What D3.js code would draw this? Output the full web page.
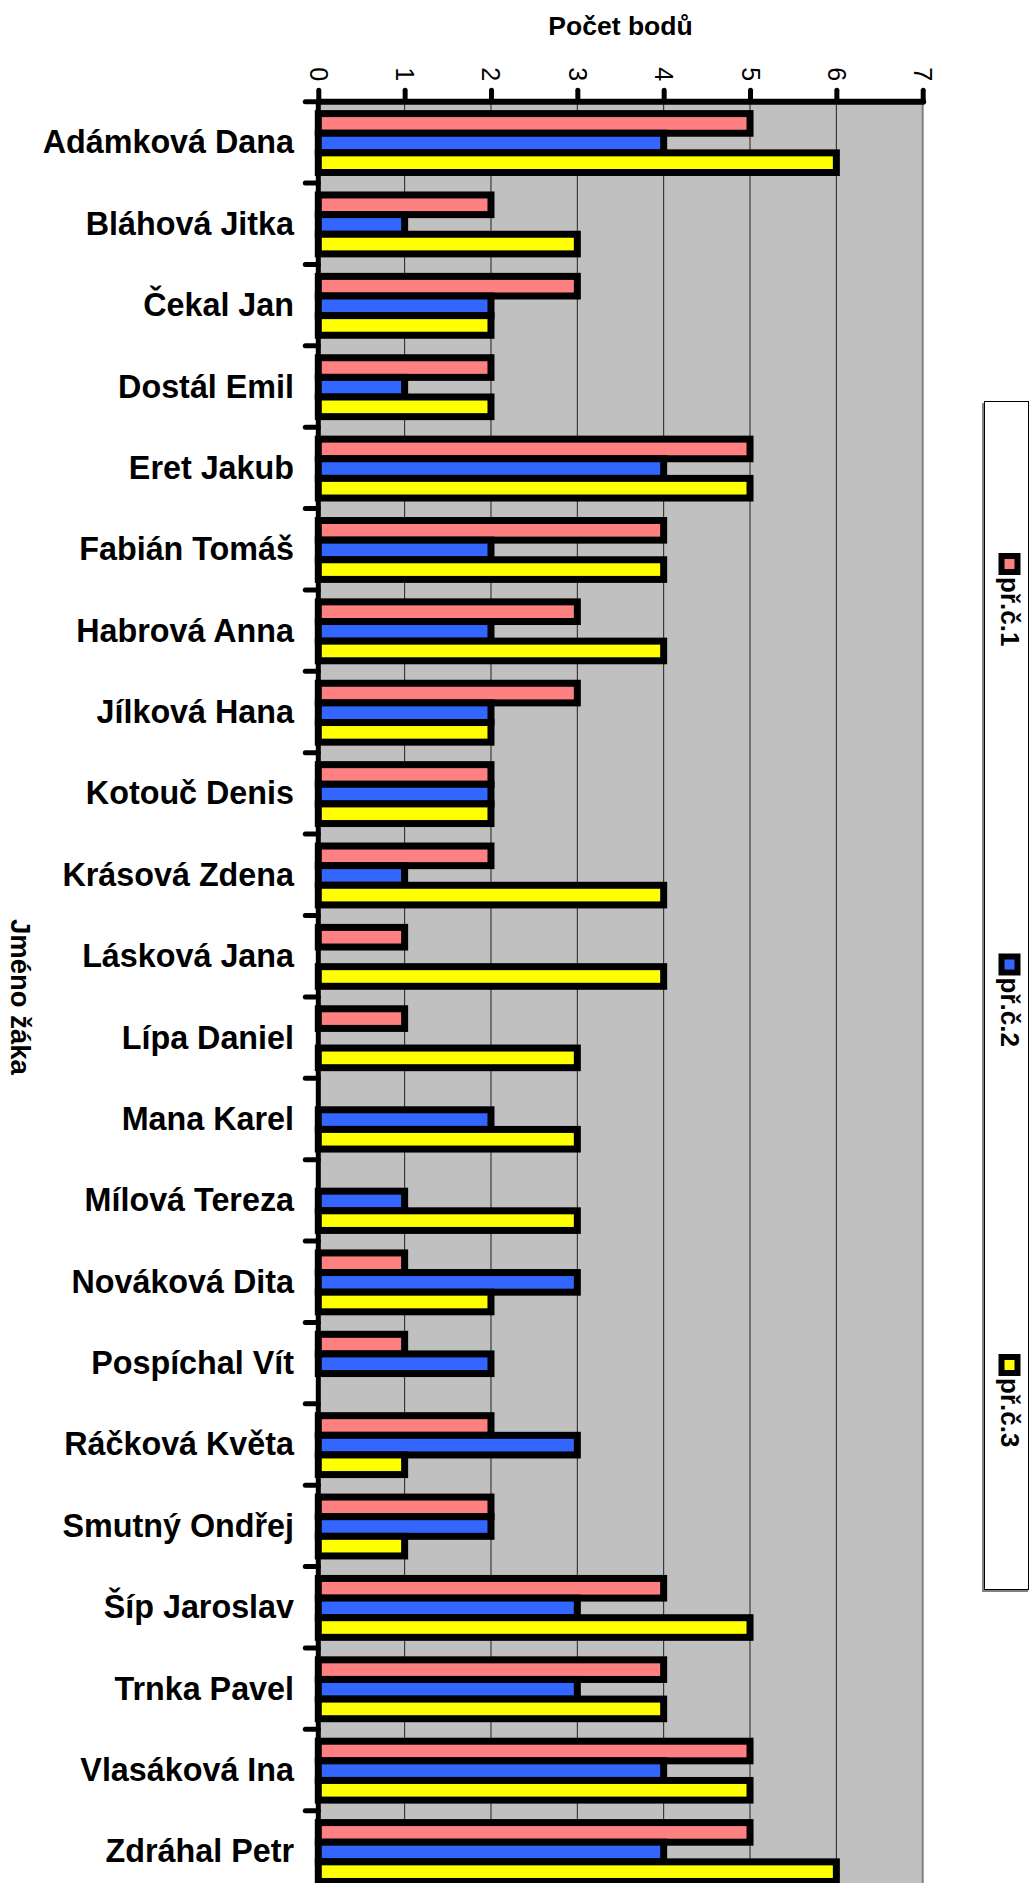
<!DOCTYPE html>
<html>
<head>
<meta charset="utf-8">
<script src="https://cdn.jsdelivr.net/npm/d3@7"></script>
<style>
  html, body { margin: 0; padding: 0; background: #fff; }
  svg { display: block; }
  text { font-family: "Liberation Sans", Arial, sans-serif; fill: #000; }
</style>
</head>
<body>
<svg id="chart" width="1030" height="1883"></svg>
<script>
const categories = [
  "Adámková Dana", "Bláhová Jitka", "Čekal Jan", "Dostál Emil", "Eret Jakub",
  "Fabián Tomáš", "Habrová Anna", "Jílková Hana", "Kotouč Denis", "Krásová Zdena",
  "Lásková Jana", "Lípa Daniel", "Mana Karel", "Mílová Tereza", "Nováková Dita",
  "Pospíchal Vít", "Ráčková Květa", "Smutný Ondřej", "Šíp Jaroslav", "Trnka Pavel",
  "Vlasáková Ina", "Zdráhal Petr"
];
const seriesNames = ["př.č.1", "př.č.2", "př.č.3"];
const pr1 = [5, 2, 3, 2, 5, 4, 3, 3, 2, 2, 1, 1, 0, 0, 1, 1, 2, 2, 4, 4, 5, 5];
const pr2 = [4, 1, 2, 1, 4, 2, 2, 2, 2, 1, 0, 0, 2, 1, 3, 2, 3, 2, 3, 3, 4, 4];
const pr3 = [6, 3, 2, 2, 5, 4, 4, 2, 2, 4, 4, 3, 3, 3, 2, 0, 1, 1, 5, 4, 5, 6];
const seriesColors = ["#FF8080", "#3366FF", "#FFFF00"];
const valueTicks = [0, 1, 2, 3, 4, 5, 6, 7];
const valueTitle = "Počet bodů";
const categoryTitle = "Jméno žáka";

const series = [pr1, pr2, pr3];
const svg = d3.select("#chart");

const plotTop = 101.7, bandStep = 81.38;
const x = d3.scaleLinear().domain([0, 7]).range([318.3, 922.7]);
const y = d3.scaleBand().domain(categories)
  .range([plotTop, plotTop + categories.length * bandStep]).padding(0);
const inner = d3.scaleBand().domain(d3.range(series.length)).range([11.9, 70.8]).padding(0);
const plotBottom = y.range()[1];

// plot background
svg.append("rect")
  .attr("x", x(0)).attr("y", plotTop)
  .attr("width", x(7) - x(0)).attr("height", plotBottom - plotTop)
  .attr("fill", "#C0C0C0");

// gridlines
svg.append("g").selectAll("line")
  .data(valueTicks.filter(v => v > 0 && v < 7))
  .join("line")
  .attr("x1", d => x(d)).attr("x2", d => x(d))
  .attr("y1", plotTop).attr("y2", plotBottom)
  .attr("stroke", "#222").attr("stroke-width", 1);
svg.append("line")
  .attr("x1", x(7)).attr("x2", x(7))
  .attr("y1", plotTop).attr("y2", plotBottom)
  .attr("stroke", "#808080").attr("stroke-width", 2);

// bars
const barData = [];
categories.forEach((c, i) => {
  series.forEach((s, j) => {
    if (s[i] > 0) barData.push({ c, j, v: s[i] });
  });
});
svg.append("g").selectAll("rect")
  .data(barData)
  .join("rect")
  .attr("x", x(0))
  .attr("y", d => y(d.c) + inner(d.j))
  .attr("width", d => x(d.v) - x(0))
  .attr("height", inner.bandwidth())
  .attr("fill", d => seriesColors[d.j])
  .attr("stroke", "#000")
  .attr("stroke-width", 7);

// value axis (top)
const axisTop = d3.axisTop(x).tickValues(valueTicks).tickSize(11).tickSizeOuter(0).tickFormat(d3.format("d"));
const gx = svg.append("g").attr("transform", `translate(0,${plotTop - 0.4})`).call(axisTop);
gx.select(".domain").attr("stroke", "#000").attr("stroke-width", 6).attr("stroke-linecap", "round");
gx.selectAll(".tick line").attr("stroke", "#000").attr("stroke-width", 5).attr("stroke-linecap", "round");
gx.selectAll(".tick text")
  .attr("y", 0).attr("dy", null)
  .attr("transform", "translate(0,-27) rotate(90)")
  .attr("text-anchor", "middle")
  .attr("dominant-baseline", "central")
  .style("font-family", "'Liberation Sans', Arial, sans-serif")
  .style("font-size", "25px");

// category axis (left)
svg.append("line")
  .attr("x1", x(0)).attr("x2", x(0))
  .attr("y1", plotTop).attr("y2", plotBottom)
  .attr("stroke", "#000").attr("stroke-width", 5);
svg.append("g").selectAll("line")
  .data(categories)
  .join("line")
  .attr("x1", x(0) - 13).attr("x2", x(0))
  .attr("y1", d => y(d)).attr("y2", d => y(d))
  .attr("stroke", "#000").attr("stroke-width", 5).attr("stroke-linecap", "round");
svg.append("g").selectAll("text")
  .data(categories)
  .join("text")
  .attr("x", 294)
  .attr("y", d => y(d) + y.bandwidth() / 2)
  .attr("text-anchor", "end")
  .attr("dominant-baseline", "central")
  .attr("font-weight", "bold")
  .attr("font-size", "32.3px")
  .text(d => d);

// axis titles
svg.append("text")
  .attr("x", (x(0) + x(7)) / 2).attr("y", 26)
  .attr("text-anchor", "middle").attr("dominant-baseline", "central")
  .attr("font-weight", "bold").attr("font-size", "26.5px")
  .text(valueTitle);
svg.append("text")
  .attr("transform", `translate(20,${(plotTop + plotBottom) / 2}) rotate(90)`)
  .attr("text-anchor", "middle").attr("dominant-baseline", "central")
  .attr("font-weight", "bold").attr("font-size", "27.5px")
  .text(categoryTitle);

// legend
const lg = svg.append("g");
lg.append("rect").attr("x", 982).attr("y", 403).attr("width", 46).attr("height", 1189).attr("fill", "#808080");
lg.append("rect").attr("x", 984.5).attr("y", 401.5).attr("width", 44).attr("height", 1188)
  .attr("fill", "#fff").attr("stroke", "#000").attr("stroke-width", 1);
const legendY = d3.scalePoint().domain(seriesNames).range([564, 1365]);
const items = lg.selectAll("g.item").data(seriesNames).join("g")
  .attr("class", "item")
  .attr("transform", d => `translate(1009.5,${legendY(d)})`);
items.append("rect").attr("x", -11).attr("y", -11).attr("width", 22).attr("height", 22).attr("fill", "#000");
items.append("rect").attr("x", -5).attr("y", -5).attr("width", 10).attr("height", 10)
  .attr("fill", (d, i) => seriesColors[i]);
items.append("text")
  .attr("transform", "translate(0,13) rotate(90)")
  .attr("text-anchor", "start").attr("dominant-baseline", "central")
  .attr("font-weight", "bold").attr("font-size", "26px")
  .text(d => d);
</script>
</body>
</html>
